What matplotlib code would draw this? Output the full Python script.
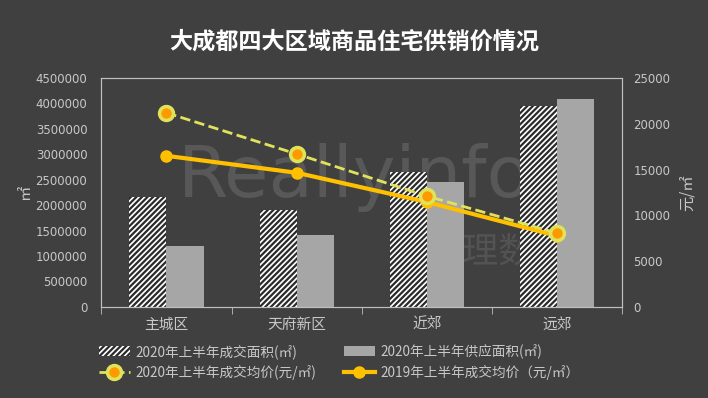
import numpy as np
import matplotlib
matplotlib.use('Agg')
import matplotlib.pyplot as plt
from matplotlib.lines import Line2D
from matplotlib.patches import Patch
from matplotlib.ticker import StrMethodFormatter

plt.rcParams['font.family'] = ['Noto Sans CJK SC', 'DejaVu Sans']
plt.rcParams['hatch.linewidth'] = 1.6

### data ----------------------------------------------------------------------
regions = ['主城区', '天府新区', '近郊', '远郊']
deal_area_2020 = [2160000, 1910000, 2650000, 3950000]
supply_area_2020 = [1200000, 1410000, 2460000, 4090000]
price_2020 = [21200, 16700, 12100, 8050]
price_2019 = [16500, 14650, 11450, 7750]

bg = '#404040'
txt = '#c8c8c8'
spine = '#bfbfbf'

### figure --------------------------------------------------------------------
fig = plt.figure(figsize=(7.08, 3.98), dpi=100, facecolor=bg)
ax = fig.add_axes([0.143, 0.229, 0.736, 0.575], facecolor=bg)
ax2 = ax.twinx()

x = np.arange(len(regions))
w = 0.285

# watermark
ax.text(1.45, 2.55e6, 'Reallyinfo', fontsize=52, color='#585858', ha='center',
        va='center', family='DejaVu Sans', zorder=0)
ax.text(2.55, 1.05e6, '锐理数据', fontsize=26, color='#535353', ha='center',
        va='center', zorder=0)

ax.bar(x - w/2, deal_area_2020, w, color='white', edgecolor='#2a2a2a',
       hatch='//////', linewidth=0, zorder=2)
ax.bar(x + w/2, supply_area_2020, w, color='#a6a6a6', linewidth=0, zorder=2)

ax2.plot(x, price_2020, '--', color='#e0e35a', linewidth=2, marker='o',
         markersize=10, markerfacecolor='#ff9900', markeredgecolor='#e0e35a',
         markeredgewidth=2.5, zorder=4)
ax2.plot(x, price_2019, '-', color='#ffc000', linewidth=3, marker='o',
         markersize=8, markerfacecolor='#ffc000', markeredgecolor='#ffc000', zorder=3)

ax.set_xlim(-0.5, 3.5)
ax.set_ylim(0, 4500000)
ax2.set_ylim(0, 25000)
ax.set_yticks(np.arange(0, 4500001, 500000))
ax2.set_yticks(np.arange(0, 25001, 5000))
ax.yaxis.set_major_formatter(StrMethodFormatter('{x:.0f}'))
ax2.yaxis.set_major_formatter(StrMethodFormatter('{x:.0f}'))
for lab in ax.get_yticklabels() + ax2.get_yticklabels():
    lab.set_family('DejaVu Sans')
ax.set_xticks(x)
ax.set_xticklabels(regions, fontsize=10.6, color=txt)
ax.set_xticks(np.arange(-0.5, 3.6, 1), minor=True)
ax.tick_params(axis='x', which='major', length=0, pad=8)
ax.tick_params(axis='x', which='minor', length=5, color=spine, direction='out')
ax.tick_params(axis='y', length=0, labelsize=8.5, labelcolor=txt, pad=10)
ax2.tick_params(axis='y', length=0, labelsize=8.5, labelcolor=txt, pad=8)

for a in (ax, ax2):
    for s in a.spines.values():
        s.set_color(spine)
        s.set_linewidth(0.8)

ax.set_ylabel('㎡', color=txt, fontsize=11, labelpad=2)
ax2.set_ylabel('元/㎡', color=txt, fontsize=11, labelpad=6)

fig.text(0.5, 0.894, '大成都四大区域商品住宅供销价情况', ha='center', va='center',
         fontsize=16.7, fontweight='bold', color='white')

handles = [
    Patch(facecolor='white', edgecolor='#2a2a2a', hatch='//////', linewidth=0),
    Line2D([], [], linestyle='--', color='#e0e35a', linewidth=2, marker='o',
           markersize=10, markerfacecolor='#ff9900', markeredgecolor='#e0e35a',
           markeredgewidth=2.5),
    Patch(facecolor='#a6a6a6', linewidth=0),
    Line2D([], [], linestyle='-', color='#ffc000', linewidth=3, marker='o',
           markersize=8, markerfacecolor='#ffc000', markeredgecolor='#ffc000'),
]
labels = ['2020年上半年成交面积(㎡)', '2020年上半年成交均价(元/㎡)',
          '2020年上半年供应面积(㎡)', '2019年上半年成交均价（元/㎡）']
leg = fig.legend(handles, labels, ncol=2, loc='center', bbox_to_anchor=(0.479, 0.09),
                 frameon=False, fontsize=9.8, labelcolor=txt, handlelength=2.3,
                 columnspacing=2.0, labelspacing=0.45, handletextpad=0.4)

fig.savefig('out.png', dpi=100, facecolor=bg)
